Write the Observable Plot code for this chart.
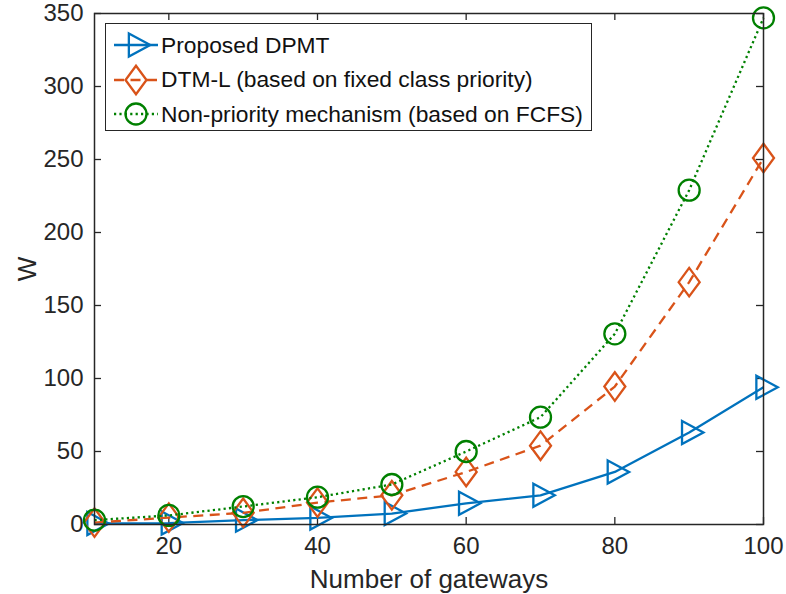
<!DOCTYPE html>
<html>
<head>
<meta charset="utf-8">
<script src="https://cdn.jsdelivr.net/npm/d3@7"></script>
<script src="https://cdn.jsdelivr.net/npm/@observablehq/plot@0.6"></script>
<style>
  body { margin: 0; background: #fff; }
  #wrap { position: relative; width: 786px; height: 594px; font-family: "Liberation Sans", Arial, Helvetica, sans-serif; }
  #legend {
    position: absolute; left: 105px; top: 23px; width: 487px; height: 108px;
    border: 1px solid #262626; background: #fff; box-sizing: border-box;
    padding-top: 4px;
  }
  .row { display: flex; align-items: center; height: 34.5px; font-size: 22.8px; color: #111; }
  .row svg { margin-left: 8px; margin-right: 3px; overflow: visible; }
</style>
</head>
<body>
<div id="wrap"></div>
<script>
// Waiting time W versus number of gateways for three scheduling schemes
const gateways = [10, 20, 30, 40, 50, 60, 70, 80, 90, 100];
const dpmt = [0.7, 1, 3, 4.5, 7.5, 14.5, 20, 36, 63, 94];
const dtmL = [1.3, 4.7, 8, 15, 20, 36, 54, 94.5, 166, 251];
const fcfs = [3, 6.2, 12.3, 18.7, 27.4, 50, 73.5, 130.6, 229, 347];

const seriesNames = [
  "Proposed DPMT",
  "DTM-L (based on fixed class priority)",
  "Non-priority mechanism (based on FCFS)"
];
const xTicks = [20, 40, 60, 80, 100];
const yTicks = [0, 50, 100, 150, 200, 250, 300, 350];

const colors = ["#0072BD", "#D95319", "#008000"];
const dashes = [null, "10,6.5", "2.2,3.2"];

// Marker shapes: right-pointing triangle, tall diamond, circle
const triRight = {
  draw(ctx, size) {
    const r = Math.sqrt(size / Math.PI);
    ctx.moveTo(-0.68 * r, -1.1 * r);
    ctx.lineTo(1.36 * r, 0);
    ctx.lineTo(-0.68 * r, 1.1 * r);
    ctx.closePath();
  }
};
const tallDiamond = {
  draw(ctx, size) {
    const r = Math.sqrt(size / Math.PI);
    ctx.moveTo(0, -1.36 * r);
    ctx.lineTo(1.0 * r, 0);
    ctx.lineTo(0, 1.36 * r);
    ctx.lineTo(-1.0 * r, 0);
    ctx.closePath();
  }
};
const symbols = [triRight, tallDiamond, "circle"];

const seriesValues = [dpmt, dtmL, fcfs];
const table = seriesValues.map((vals, i) =>
  gateways.map((g, j) => ({ g, w: vals[j], series: seriesNames[i] }))
);

const W = 786, H = 594;
const mL = 94, mR = 23, mT = 13, mB = 70;
const innerH = H - mT - mB, innerW = W - mL - mR;
const axisColor = "#262626";
const tickLen = 7;

const marks = [];
// inward ticks on all four sides
marks.push(Plot.tickX(xTicks, { x: d => d, stroke: axisColor, strokeWidth: 1.3, insetTop: innerH - tickLen }));
marks.push(Plot.tickX(xTicks, { x: d => d, stroke: axisColor, strokeWidth: 1.3, insetBottom: innerH - tickLen }));
marks.push(Plot.tickY(yTicks, { y: d => d, stroke: axisColor, strokeWidth: 1.3, insetRight: innerW - tickLen }));
marks.push(Plot.tickY(yTicks, { y: d => d, stroke: axisColor, strokeWidth: 1.3, insetLeft: innerW - tickLen }));

seriesValues.forEach((_, i) => {
  marks.push(Plot.line(table[i], {
    x: "g", y: "w", stroke: colors[i], strokeWidth: 2.3,
    strokeDasharray: dashes[i] || undefined, strokeLinecap: "butt"
  }));
  marks.push(Plot.dot(table[i], {
    x: "g", y: "w", r: 10.5, symbol: () => symbols[i],
    stroke: colors[i], strokeWidth: 2.3, fill: "none"
  }));
});

marks.push(Plot.frame({ stroke: axisColor, strokeWidth: 1.5 }));
marks.push(Plot.axisX(xTicks, {
  tickSize: 0, tickPadding: 12, fontSize: 24, color: axisColor,
  label: "Number of gateways", labelAnchor: "center", labelArrow: "none", labelOffset: 63,
  style: { fontSize: "26px" }
}));
marks.push(Plot.axisY(yTicks, {
  tickSize: 0, tickPadding: 11, fontSize: 24, color: axisColor,
  label: "W", labelAnchor: "center", labelArrow: "none", labelOffset: 77
}));

const chart = Plot.plot({
  width: W, height: H,
  marginLeft: mL, marginRight: mR, marginTop: mT, marginBottom: mB,
  style: { fontFamily: "'Liberation Sans', Arial, sans-serif", background: "#fff", color: axisColor, overflow: "visible" },
  x: { domain: [10, 100] },
  y: { domain: [0, 350] },
  symbol: { type: "identity" },
  marks
});

// axis titles slightly larger than tick labels
d3.select(chart).selectAll("g[aria-label='x-axis label'] text, g[aria-label='y-axis label'] text")
  .attr("font-size", 26);

const wrap = document.getElementById("wrap");
wrap.appendChild(chart);

// Legend box drawn in the upper-left of the axes
const legend = document.createElement("div");
legend.id = "legend";
seriesNames.forEach((name, i) => {
  const row = document.createElement("div");
  row.className = "row";
  const svg = d3.create("svg").attr("width", 44).attr("height", 30);
  svg.append("line").attr("x1", 0).attr("x2", 44).attr("y1", 15).attr("y2", 15)
    .attr("stroke", colors[i]).attr("stroke-width", 2.3)
    .attr("stroke-dasharray", dashes[i]);
  const sym = symbols[i] === "circle" ? d3.symbolCircle : symbols[i];
  svg.append("path").attr("transform", "translate(22,15)")
    .attr("d", d3.symbol(sym, 10.5 * 10.5 * Math.PI)())
    .attr("fill", "none").attr("stroke", colors[i]).attr("stroke-width", 2.3);
  row.appendChild(svg.node());
  const label = document.createElement("span");
  label.textContent = name;
  row.appendChild(label);
  legend.appendChild(row);
});
wrap.appendChild(legend);
</script>
</body>
</html>
